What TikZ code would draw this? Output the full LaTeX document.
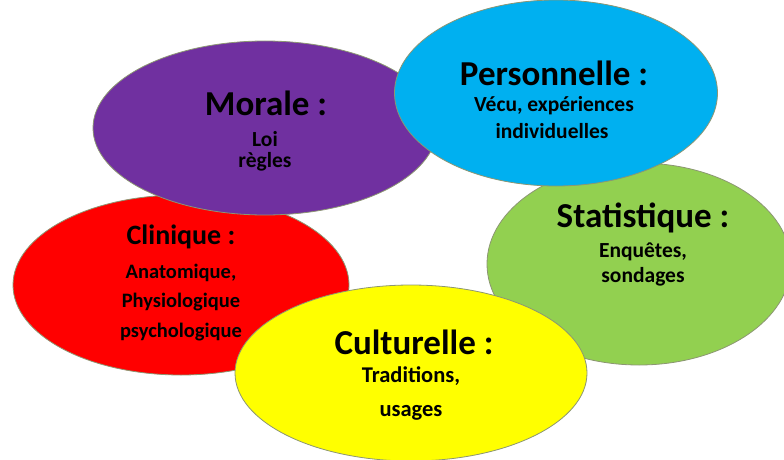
\documentclass[tikz,border=0pt]{standalone}
\usepackage{fontspec}
\setmainfont{Carlito}
\usetikzlibrary{shapes.geometric}
\definecolor{cpurple}{HTML}{7030A0}
\definecolor{ccyan}{HTML}{00B0F0}
\definecolor{cgreen}{HTML}{92D050}
\definecolor{cred}{HTML}{FF0000}
\definecolor{cyellow}{HTML}{FFFF00}
\definecolor{cline}{RGB}{140,150,115}
\tikzset{
  blob/.style={ellipse, draw=cline, line width=0.8pt, inner sep=0pt},
  ttl/.style={font=\bfseries\fontsize{35}{38}\selectfont, inner sep=0pt, anchor=center},
  ttlsmall/.style={font=\bfseries\fontsize{28}{30}\selectfont, inner sep=0pt, anchor=center},
  sub/.style={font=\bfseries\fontsize{21.5}{24}\selectfont, inner sep=0pt, anchor=center},
  subsmall/.style={font=\bfseries\fontsize{20.5}{23}\selectfont, inner sep=0pt, anchor=center},
  subbig/.style={font=\bfseries\fontsize{22.5}{25}\selectfont, inner sep=0pt, anchor=center},
}
\begin{document}
\begin{tikzpicture}[x=1pt,y=-1pt]
\useasboundingbox (0,0) rectangle (784,460);
% ellipses (drawing order matters)
\node[blob, fill=cred, minimum width=336, minimum height=180] (clin) at (181,285) {};
\node[blob, fill=cpurple, minimum width=344, minimum height=174] (mor) at (265,128) {};
\node[blob, fill=cgreen, minimum width=304, minimum height=202] (stat) at (639,264) {};
\node[blob, fill=ccyan, minimum width=323, minimum height=186] (pers) at (556,93) {};
\node[blob, fill=cyellow, minimum width=352, minimum height=176] (cult) at (411,373) {};
% texts
\node[ttl] (t1) at (266,103) {Morale :};
\node[sub] (t1a) at (265,139) {Loi};
\node[sub] (t1b) at (265,162) {règles};

\node[ttl] (t2) at (554,73) {Personnelle :};
\node[sub] (t2a) at (554,106) {Vécu, expériences};
\node[sub] (t2b) at (552,131) {individuelles};

\node[ttl] (t3) at (643,218) {Statistique :};
\node[sub] (t3a) at (643,252) {Enquêtes,};
\node[sub] (t3b) at (643,277) {sondages};

\node[ttlsmall] (t4) at (181,237) {Clinique :};
\node[subsmall] (t4a) at (181,273) {Anatomique,};
\node[subsmall] (t4b) at (181,302) {Physiologique};
\node[subsmall] (t4c) at (181,332) {psychologique};

\node[ttl] (t5) at (414,342) {Culturelle :};
\node[subbig] (t5a) at (411,376) {Traditions,};
\node[subbig] (t5b) at (411,413) {usages};
\end{tikzpicture}
\end{document}
